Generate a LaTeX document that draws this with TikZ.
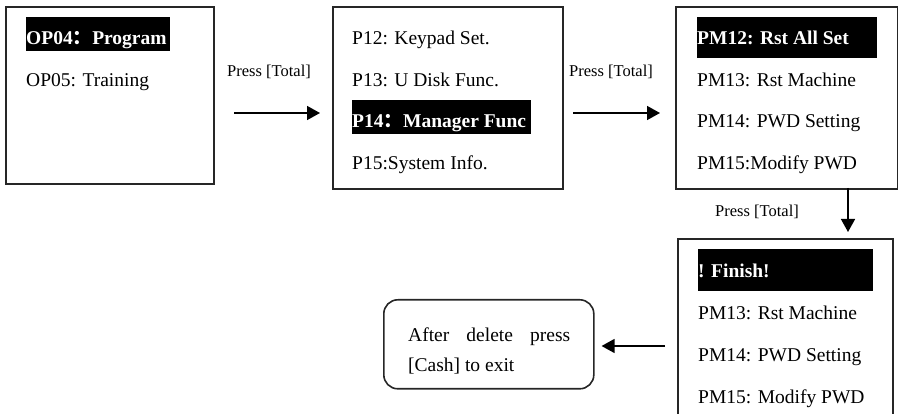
\documentclass[tikz,border=0pt]{standalone}
\usepackage{fontspec}
\setmainfont{Liberation Serif}
\newfontfamily\cjkfont{Noto Sans CJK SC}
\usetikzlibrary{arrows.meta}
\begin{document}
\begin{tikzpicture}[x=1pt,y=-1pt,
  menubox/.style={draw=black!85, line width=1.6pt, inner sep=0pt, anchor=north west},
  bar/.style={fill=black, inner sep=0pt, anchor=north west},
  item/.style={anchor=base west, inner sep=0pt, font=\fontsize{19.5}{23}\selectfont},
  sel/.style={anchor=base west, inner sep=0pt, text=white, font=\fontsize{19.5}{23}\selectfont\bfseries},
  lbl/.style={anchor=base west, inner sep=0pt, font=\fontsize{16.5}{20}\selectfont},
  arr/.style={line width=1.5pt, -{Triangle[length=13pt,width=14pt]}}]
\useasboundingbox (0,0) rectangle (898,414);

% boxes
\node[menubox, minimum width=208pt, minimum height=177pt] (b1) at (5,6) {};
\node[menubox, minimum width=230pt, minimum height=182pt] (b2) at (332,6) {};
\node[menubox, minimum width=222pt, minimum height=182pt] (b3) at (675,6) {};
\node[menubox, minimum width=215pt, minimum height=190pt] (b4) at (677,238) {};
\node[menubox, rounded corners=14pt, minimum width=210pt, minimum height=89pt] (rb) at (383,299) {};

% highlight bars
\node[bar, minimum width=144pt, minimum height=34pt] (h1) at (26,17) {};
\node[bar, minimum width=179pt, minimum height=34pt] (h2) at (352,100) {};
\node[bar, minimum width=180pt, minimum height=41pt] (h3) at (697,17) {};
\node[bar, minimum width=175pt, minimum height=42pt] (h4) at (698,249) {};

% box 1
\node[sel] (t11) at (26,45) {OP04{\cjkfont ：}Program};
\node[item] (t12) at (26,87) {OP05: Training};

% box 2
\node[item] (t21) at (352,45) {P12: Keypad Set.};
\node[item] (t22) at (352,87) {P13: U Disk Func.};
\node[sel] (t23) at (352,128) {P14{\cjkfont ：}Manager Func};
\node[item] (t24) at (352,170) {P15:System Info.};

% box 3
\node[sel] (t31) at (697,45) {PM12: Rst All Set};
\node[item] (t32) at (697,87) {PM13: Rst Machine};
\node[item] (t33) at (697,128) {PM14: PWD Setting};
\node[item] (t34) at (697,170) {PM15:Modify PWD};

% box 4
\node[sel] (t41) at (698,278) {! Finish!};
\node[item] (t42) at (698,320) {PM13: Rst Machine};
\node[item] (t43) at (698,362) {PM14: PWD Setting};
\node[item] (t44) at (698,403) {PM15: Modify PWD};

% rounded box text
\node[item] (r1) at (408,342) {\makebox[162pt][s]{After delete press}};
\node[item] (r2) at (408,372) {[Cash] to exit};

% labels
\node[lbl] (l1) at (227,77) {Press [Total]};
\node[lbl] (l2) at (569,77) {Press [Total]};
\node[lbl] (l3) at (715,217) {Press [Total]};

% arrows
\coordinate (a1) at (234,113);
\coordinate (a2) at (573,113);
\coordinate (a3) at (848,188);
\coordinate (a4) at (665,346);
\draw[arr, shorten >=12pt] (a1) -- (a1 -| b2.west);
\draw[arr, shorten >=15pt] (a2) -- (a2 -| b3.west);
\draw[arr, shorten >=6pt] (a3) -- (a3 |- b4.north);
\draw[arr, shorten >=7pt] (a4) -- (a4 -| rb.east);
\end{tikzpicture}
\end{document}
